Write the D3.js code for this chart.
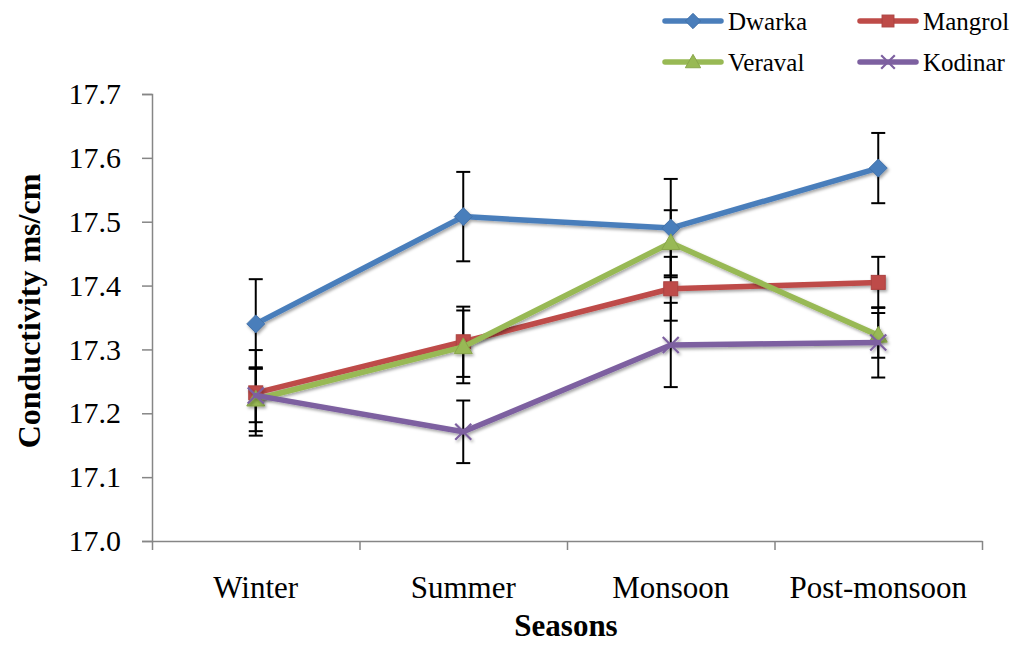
<!DOCTYPE html>
<html>
<head>
<meta charset="utf-8">
<script src="https://cdn.jsdelivr.net/npm/d3@7"></script>
<style>
  html, body { margin: 0; padding: 0; background: #fff; }
</style>
</head>
<body>
<svg id="chart" width="1017" height="645"></svg>
<script>
// Seasonal conductivity (ms/cm) at four coastal sites, mean ± SD
const seasons = ["Winter", "Summer", "Monsoon", "Post-monsoon"];
const siteNames = ["Dwarka", "Mangrol", "Veraval", "Kodinar"];
const dwarka  = [17.340, 17.508, 17.490, 17.584];
const mangrol = [17.232, 17.312, 17.395, 17.405];
const veraval = [17.222, 17.304, 17.467, 17.322];
const kodinar = [17.228, 17.171, 17.307, 17.311];
const dwarkaErr  = [0.070, 0.070, 0.077, 0.055];
const mangrolErr = [0.067, 0.055, 0.050, 0.040];
const veravalErr = [0.050, 0.057, 0.051, 0.035];
const kodinarErr = [0.042, 0.049, 0.066, 0.055];
const yTicks = [17.0, 17.1, 17.2, 17.3, 17.4, 17.5, 17.6, 17.7];

const SERIF = "'Liberation Serif', 'Times New Roman', serif";

const series = [
  { name: siteNames[0], values: dwarka,  err: dwarkaErr,  color: "#4A7EBB", marker: "diamond" },
  { name: siteNames[1], values: mangrol, err: mangrolErr, color: "#BE4B48", marker: "square" },
  { name: siteNames[2], values: veraval, err: veravalErr, color: "#98B954", marker: "triangle" },
  { name: siteNames[3], values: kodinar, err: kodinarErr, color: "#7D60A0", marker: "cross" }
];

const svg = d3.select("#chart");
const plot = { left: 152, right: 982, top: 94, bottom: 541 };

const x = d3.scaleBand().domain(seasons).range([plot.left, plot.right]).padding(0);
const y = d3.scaleLinear().domain([17.0, 17.7]).range([plot.bottom, plot.top]);
const cx = s => x(s) + x.bandwidth() / 2;

// soft shadow under lines and markers
const defs = svg.append("defs");
const f = defs.append("filter").attr("id", "shadow")
  .attr("x", "-30%").attr("y", "-30%").attr("width", "160%").attr("height", "160%");
f.append("feDropShadow").attr("dx", 1.5).attr("dy", 2).attr("stdDeviation", 1.6)
  .attr("flood-color", "#000").attr("flood-opacity", 0.35);

// Y axis
const yAxis = svg.append("g")
  .attr("transform", `translate(${plot.left},0)`)
  .call(d3.axisLeft(y).tickValues(yTicks).tickFormat(d3.format(".1f")).tickSize(10).tickPadding(21));
yAxis.select(".domain").attr("stroke", "#868686").attr("stroke-width", 1.5);
yAxis.selectAll(".tick line").attr("stroke", "#868686").attr("stroke-width", 1.5);
yAxis.selectAll(".tick text").attr("font-size", 30).attr("fill", "#000");

// X axis: tick marks on band boundaries, labels centred in each band
const xAxisG = svg.append("g").attr("transform", `translate(0,${plot.bottom})`);
const xEdge = d3.scaleLinear().domain([0, seasons.length]).range([plot.left, plot.right]);
xAxisG.call(d3.axisBottom(xEdge).tickValues(d3.range(seasons.length + 1)).tickFormat("").tickSize(9).tickSizeOuter(0));
xAxisG.select(".domain").attr("stroke", "#868686").attr("stroke-width", 1.5);
xAxisG.selectAll(".tick line").attr("stroke", "#868686").attr("stroke-width", 1.5);
xAxisG.selectAll(".season")
  .data(seasons).enter().append("text")
  .attr("class", "season")
  .attr("x", d => cx(d)).attr("y", 57)
  .attr("text-anchor", "middle")
  .attr("font-size", 31).attr("fill", "#000")
  .text(d => d);

// Axis titles
svg.append("text")
  .attr("x", 566).attr("y", 636)
  .attr("text-anchor", "middle")
  .attr("font-size", 31).attr("font-weight", "bold")
  .text("Seasons");
svg.append("text")
  .attr("transform", "translate(40,311) rotate(-90)")
  .attr("text-anchor", "middle")
  .attr("font-size", 32).attr("font-weight", "bold")
  .text("Conductivity ms/cm");

// Error bars
const capHalf = 7;
const errG = svg.append("g");
series.forEach(s => {
  s.values.forEach((v, i) => {
    const xc = cx(seasons[i]);
    const lo = y(v - s.err[i]), hi = y(v + s.err[i]);
    errG.append("line").attr("x1", xc).attr("x2", xc).attr("y1", lo).attr("y2", hi)
      .attr("stroke", "#000").attr("stroke-width", 2);
    [lo, hi].forEach(yy => errG.append("line")
      .attr("x1", xc - capHalf).attr("x2", xc + capHalf).attr("y1", yy).attr("y2", yy)
      .attr("stroke", "#000").attr("stroke-width", 2));
  });
});

// Marker drawing
function drawMarker(g, type, color, px, py, scale) {
  const k = scale || 1;
  if (type === "diamond") {
    const r = 9 * k;
    g.append("path").attr("d", `M${px},${py - r}L${px + r},${py}L${px},${py + r}L${px - r},${py}Z`)
      .attr("fill", color).attr("stroke", d3.color(color).darker(0.3)).attr("stroke-width", 1);
  } else if (type === "square") {
    const r = 7 * k;
    g.append("rect").attr("x", px - r).attr("y", py - r).attr("width", 2 * r).attr("height", 2 * r)
      .attr("fill", color).attr("stroke", d3.color(color).darker(0.3)).attr("stroke-width", 1);
  } else if (type === "triangle") {
    const r = 9 * k;
    g.append("path").attr("d", `M${px},${py - r}L${px + r},${py + r * 0.75}L${px - r},${py + r * 0.75}Z`)
      .attr("fill", color).attr("stroke", d3.color(color).darker(0.3)).attr("stroke-width", 1);
  } else if (type === "cross") {
    const r = 8 * k;
    g.append("path").attr("d", `M${px - r},${py - r}L${px + r},${py + r}M${px - r},${py + r}L${px + r},${py - r}`)
      .attr("stroke", color).attr("stroke-width", 2.2).attr("fill", "none");
  }
}

// Lines and markers
const line = d3.line().x((d, i) => cx(seasons[i])).y(d => y(d));
series.forEach(s => {
  const g = svg.append("g").attr("filter", "url(#shadow)");
  g.append("path").datum(s.values).attr("d", line)
    .attr("fill", "none").attr("stroke", s.color).attr("stroke-width", 5.5)
    .attr("stroke-linejoin", "round").attr("stroke-linecap", "round");
  s.values.forEach((v, i) => drawMarker(g, s.marker, s.color, cx(seasons[i]), y(v)));
});

// Legend
const legendPos = [
  { x: 665, y: 21 }, { x: 860, y: 21 },
  { x: 665, y: 62 }, { x: 860, y: 62 }
];
series.forEach((s, i) => {
  const p = legendPos[i];
  const g = svg.append("g");
  g.append("line").attr("x1", p.x).attr("x2", p.x + 56).attr("y1", p.y).attr("y2", p.y)
    .attr("stroke", s.color).attr("stroke-width", 5.5).attr("stroke-linecap", "round");
  drawMarker(g, s.marker, s.color, p.x + 28, p.y, 0.85);
  g.append("text").attr("x", p.x + 63).attr("y", p.y + 9)
    .attr("font-size", 25).attr("fill", "#000").text(s.name);
});

// every label in the chart uses the serif face
svg.selectAll("g").attr("font-family", null);
svg.selectAll("text").style("font-family", SERIF);
</script>
</body>
</html>
